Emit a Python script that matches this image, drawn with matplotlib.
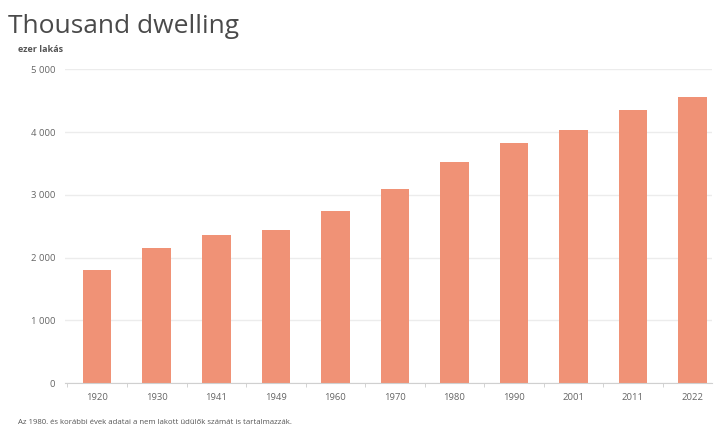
import matplotlib.pyplot as plt
from matplotlib.ticker import FuncFormatter, FixedLocator

years = ["1920", "1930", "1941", "1949", "1960", "1970",
         "1980", "1990", "2001", "2011", "2022"]
dwellings = [1800, 2150, 2360, 2440, 2740, 3100,
             3520, 3820, 4030, 4350, 4560]
y_ticks = [0, 1000, 2000, 3000, 4000, 5000]

plt.rcParams['font.family'] = ['Open Sans', 'DejaVu Sans']

fig = plt.figure(figsize=(7.15, 4.3), dpi=100)
ax = fig.add_axes([0.091, 0.109, 0.905, 0.730])

x = range(len(years))
ax.bar(x, dwellings, width=0.48, color="#F09276", zorder=2)

ax.set_ylim(0, 5000)
ax.set_xlim(-0.54, 10.33)
ax.set_yticks(y_ticks)
ax.yaxis.set_major_formatter(FuncFormatter(lambda v, p: f"{int(v):,}".replace(",", " ")))
ax.grid(axis="y", color="#ececec", linewidth=1, zorder=0)

# labels centred under bars, small ticks on the category boundaries
ax.set_xticks(list(x))
ax.set_xticklabels(years)
ax.xaxis.set_minor_locator(FixedLocator([i - 0.5 for i in range(len(years) + 1)]))
ax.tick_params(axis="x", which="major", length=0, pad=7, labelsize=6.8, labelcolor="#666666")
ax.tick_params(axis="x", which="minor", length=3, color="#cccccc")
ax.tick_params(axis="y", length=0, pad=7, labelsize=6.8, labelcolor="#666666")

for side in ["top", "right", "left"]:
    ax.spines[side].set_visible(False)
ax.spines["bottom"].set_color("#d0d0d0")

fig.text(0.011, 0.923, "Thousand dwelling", fontsize=19, color="#4a4a4a",
         va="baseline", ha="left")
fig.text(0.025, 0.884, "ezer lakás", fontsize=6.5, color="#555555",
         va="center", ha="left", fontweight="bold")
fig.text(0.025, 0.018, "Az 1980. és korábbi évek adatai a nem lakott üdülők számát is tartalmazzák.",
         fontsize=5.6, color="#555555", va="center", ha="left")

fig.savefig("out.png", dpi=100)
